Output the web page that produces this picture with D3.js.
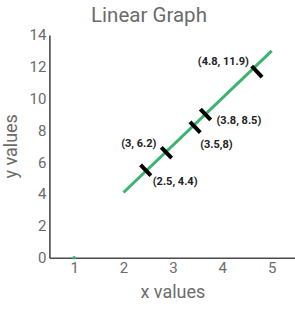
<!DOCTYPE html>
<html>
<head>
<meta charset="utf-8">
<script src="https://cdn.jsdelivr.net/npm/d3@7"></script>
<style>
    html, body { margin: 0; padding: 0; background: #ffffff; }
    svg { display: block; font-family: Roboto, "Noto Sans", sans-serif; }
</style>
</head>
<body>
<div id="chart"></div>
<script>
// tick values
const xTicks = [1, 2, 3, 4, 5];
const yTicks = [0, 2, 4, 6, 8, 10, 12, 14];

// the green line (start / end)
const lineX = [2, 5];
const lineY = [4.1, 13];

// stray green point on the x axis
const dotX = [1];
const dotY = [0];

// black marks along the line, and their labels
const markX = [2.45, 2.87, 3.45, 3.66, 4.70];
const markY = [5.5, 6.6, 8.2, 9.0, 11.7];
const markLabels = ["(2.5, 4.4)", "(3, 6.2)", "(3.5,8)", "(3.8, 8.5)", "(4.8, 11.9)"];

// label placement relative to each mark (pixels)
const labelLayout = [
    { dx: 7, dy: 11, anchor: "start" },
    { dx: -10, dy: -10, anchor: "end" },
    { dx: 5, dy: 17, anchor: "start" },
    { dx: 11, dy: 6, anchor: "start" },
    { dx: -8, dy: -10, anchor: "end" }
];

document.addEventListener("DOMContentLoaded", function() {
    const width = 295;
    const height = 310;
    const textColor = "#6b6b6b";
    const axisColor = "#4a4a4a";
    const lineColor = "#3cb371";

    const svg = d3.select("#chart").append("svg")
        .attr("width", width)
        .attr("height", height);

    const x = d3.scaleLinear().domain([0.5, 5.5]).range([49.4, 296.4]);
    const y = d3.scaleLinear().domain([0, 14]).range([257.7, 35]);

    // title
    svg.append("text")
        .attr("x", 149)
        .attr("y", 22)
        .attr("text-anchor", "middle")
        .attr("font-size", "20.5px")
        .attr("fill", textColor)
        .text("Linear Graph");

    // axes
    const xAxis = svg.append("g")
        .attr("transform", `translate(0,${y(0)})`)
        .call(d3.axisBottom(x).tickValues(xTicks).tickFormat(d3.format("d"))
            .tickSize(0).tickSizeOuter(0).tickPadding(5));
    const yAxis = svg.append("g")
        .attr("transform", `translate(${x(0.5)},0)`)
        .call(d3.axisLeft(y).tickValues(yTicks).tickFormat(d3.format("d"))
            .tickSize(0).tickSizeOuter(0).tickPadding(3));

    [xAxis, yAxis].forEach(function(g) {
        g.select(".domain").attr("stroke", axisColor).attr("stroke-width", 1.6);
        g.selectAll("text")
            .attr("font-size", "15px")
            .attr("font-family", "Roboto, sans-serif")
            .attr("fill", textColor);
    });

    // axis titles
    svg.append("text")
        .attr("x", x(3))
        .attr("y", 298)
        .attr("text-anchor", "middle")
        .attr("font-size", "18px")
        .attr("fill", textColor)
        .text("x values");

    svg.append("text")
        .attr("transform", `translate(17,${(y(0) + y(14)) / 2}) rotate(-90)`)
        .attr("text-anchor", "middle")
        .attr("font-size", "18px")
        .attr("fill", textColor)
        .text("y values");

    // green line
    const linePts = lineX.map((v, i) => [x(v), y(lineY[i])]);
    svg.append("path")
        .attr("d", d3.line()(linePts))
        .attr("fill", "none")
        .attr("stroke", lineColor)
        .attr("stroke-width", 3);

    svg.selectAll(".dot")
        .data(dotX)
        .enter()
        .append("circle")
        .attr("cx", d => x(d))
        .attr("cy", (d, i) => y(dotY[i]))
        .attr("r", 1.8)
        .attr("fill", lineColor);

    // perpendicular direction to the line (screen space)
    const ddx = linePts[1][0] - linePts[0][0];
    const ddy = linePts[1][1] - linePts[0][1];
    const len = Math.sqrt(ddx * ddx + ddy * ddy);
    const px = -ddy / len;
    const py = ddx / len;
    const half = 7.5;

    const marks = svg.append("g").classed("marks", true);
    markX.forEach(function(mx, i) {
        const cx = x(mx);
        const cy = y(markY[i]);
        marks.append("line")
            .attr("x1", cx - px * half)
            .attr("y1", cy - py * half)
            .attr("x2", cx + px * half)
            .attr("y2", cy + py * half)
            .attr("stroke", "#000")
            .attr("stroke-width", 4);

        marks.append("text")
            .attr("x", cx + labelLayout[i].dx)
            .attr("y", cy + labelLayout[i].dy)
            .attr("dy", "0.35em")
            .attr("text-anchor", labelLayout[i].anchor)
            .attr("font-size", "11px")
            .attr("font-weight", "bold")
            .attr("fill", "#222")
            .text(markLabels[i]);
    });
});
</script>
</body>
</html>
